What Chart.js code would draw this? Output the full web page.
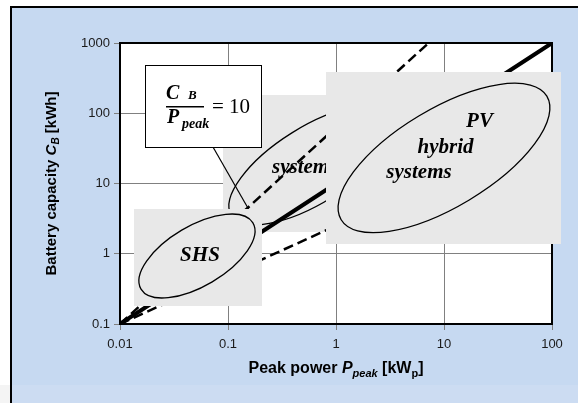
<!DOCTYPE html>
<html>
<head>
<meta charset="utf-8">
<script src="https://cdn.jsdelivr.net/npm/chart.js@4.4.1/dist/chart.umd.min.js"></script>
<style>
    html, body { margin: 0; padding: 0; background: #fff; }
    #wrap { width: 578px; height: 403px; position: relative; }
</style>
</head>
<body>
<div id="wrap"><canvas id="battery-chart"></canvas></div>
<script>
/* Data *****************************************************************************/

const xTicks = [0.01, 0.1, 1, 10, 100];
const xTickLabels = ["0.01", "0.1", "1", "10", "100"];
const yTicks = [0.1, 1, 10, 100, 1000];
const yTickLabels = ["0.1", "1", "10", "100", "1000"];

// C_B / P_peak = 10 (thick solid line)
const ratioPower = [0.01, 0.1, 1, 10, 100];
const ratioCapacity = [0.1, 1, 10, 100, 1000];

// steeper dashed bound
const upperPower = [0.01, 0.1, 1, 7.2];
const upperCapacity = [0.1, 2.5, 63, 1000];

// flatter dashed bound
const lowerPower = [0.01, 0.1, 1, 10, 100];
const lowerCapacity = [0.1, 0.5, 2.5, 12.6, 63];

const toPoints = (xs, ys) => xs.map((x, i) => ({x: x, y: ys[i]}));

/* Annotations (corners / centres in data units, kWp and kWh) ***********************/

const FONT_SANS = "'Liberation Sans', Arial, sans-serif";
const FONT_SERIF = "'Liberation Serif', 'Times New Roman', serif";
const BOX_GRAY = "#e8e8e8";

const midBox = {x1: 0.09, x2: 0.88, y1: 182, y2: 2.04};
const shsBox = {x1: 0.0135, x2: 0.2066, y1: 4.34, y2: 0.18};
const pvBox = {x1: 0.807, x2: 121, y1: 386, y2: 1.377};
const calloutBox = {x1: 0.017, x2: 0.2022, y1: 486, y2: 33.1};
const leader = {x1: 0.0726, y1: 33.1, x2: 0.1815, y2: 2.83};

const midEllipse = {x: 0.6, y: 18.3, rx: 95, ry: 38, rot: -32,
    labels: [{text: "systems", dx: -40, dy: 8, align: "left"}]};
const shsEllipse = {x: 0.0516, y: 0.929, rx: 65, ry: 30, rot: -30.6,
    labels: [{text: "SHS", dx: 3, dy: 5, align: "center"}]};
const pvEllipse = {x: 10, y: 23.1, rx: 120, ry: 49, rot: -31,
    labels: [
        {text: "PV", dx: 35.5, dy: -31, align: "center"},
        {text: "hybrid", dx: 1.5, dy: -5, align: "center"},
        {text: "systems", dx: -25, dy: 20, align: "center"},
    ]};

/* Drawing helpers ******************************************************************/

const pos = (chart, x, y) => [chart.scales.x.getPixelForValue(x), chart.scales.y.getPixelForValue(y)];

const fillBox = (ctx, chart, box, color) => {
    const [x1, y1] = pos(chart, box.x1, box.y1);
    const [x2, y2] = pos(chart, box.x2, box.y2);
    ctx.fillStyle = color;
    ctx.fillRect(Math.round(x1), Math.round(y1), Math.round(x2 - x1), Math.round(y2 - y1));
    return [Math.round(x1), Math.round(y1), Math.round(x2 - x1), Math.round(y2 - y1)];
};

const drawEllipse = (ctx, chart, e) => {
    const [cx, cy] = pos(chart, e.x, e.y);
    ctx.beginPath();
    ctx.ellipse(cx, cy, e.rx, e.ry, e.rot * Math.PI / 180, 0, Math.PI * 2);
    ctx.strokeStyle = "#000";
    ctx.lineWidth = 1.3;
    ctx.stroke();
    ctx.fillStyle = "#000";
    ctx.font = `italic bold 21px ${FONT_SERIF}`;
    ctx.textBaseline = "alphabetic";
    e.labels.forEach((l) => {
        ctx.textAlign = l.align;
        ctx.fillText(l.text, cx + l.dx, cy + l.dy);
    });
};

// bold sans text with italic / subscript runs, centred on (x, y) baseline
const drawRich = (ctx, parts, size, x, y, angle) => {
    ctx.save();
    ctx.translate(x, y);
    ctx.rotate(angle);
    const fontFor = (p) => `${p.italic ? "italic " : ""}bold ${p.sub ? Math.round(size * 0.68) : size}px ${FONT_SANS}`;
    let total = 0;
    parts.forEach((p) => { ctx.font = fontFor(p); total += ctx.measureText(p.t).width; });
    let cx = -total / 2;
    ctx.fillStyle = "#000";
    ctx.textAlign = "left";
    ctx.textBaseline = "alphabetic";
    parts.forEach((p) => {
        ctx.font = fontFor(p);
        ctx.fillText(p.t, cx, p.sub ? size * 0.22 : 0);
        cx += ctx.measureText(p.t).width;
    });
    ctx.restore();
};

const drawFormula = (ctx, left, top) => {
    ctx.fillStyle = "#000";
    ctx.textAlign = "left";
    ctx.textBaseline = "alphabetic";
    ctx.font = `italic bold 20px ${FONT_SERIF}`;
    ctx.fillText("C", left + 21, top + 34);
    ctx.fillText("P", left + 22, top + 58);
    ctx.font = `italic bold 13px ${FONT_SERIF}`;
    ctx.fillText("B", left + 43, top + 34);
    ctx.font = `italic bold 14px ${FONT_SERIF}`;
    ctx.fillText("peak", left + 37, top + 63);
    ctx.fillRect(left + 21, top + 41, 38, 1.5);
    ctx.font = `21px ${FONT_SERIF}`;
    ctx.fillText("= 10", left + 67, top + 48);
};

const overlayPlugin = {
    id: "overlays",
    beforeDraw(chart) {
        const ctx = chart.ctx;
        const {width, height, chartArea: a} = chart;
        ctx.save();
        ctx.fillStyle = "#fff";
        ctx.fillRect(0, 0, width, height);
        ctx.fillStyle = "#f4f4f4";
        ctx.fillRect(0, 385, 10, height - 385);
        ctx.fillStyle = "#c6d9f1";
        ctx.fillRect(12, 8, width - 12, height - 8);
        ctx.fillStyle = "#ccdcf2";
        ctx.fillRect(12, 385, width - 12, height - 385);
        ctx.fillStyle = "#000";
        ctx.fillRect(10, 6, width - 10, 2);
        ctx.fillRect(10, 6, 2, height - 6);
        ctx.fillStyle = "#fff";
        ctx.fillRect(a.left, a.top, a.right - a.left, a.bottom - a.top);
        ctx.restore();
    },
    beforeDatasetsDraw(chart) {
        const ctx = chart.ctx;
        const a = chart.chartArea;
        ctx.save();
        // top and right frame of the plot area
        ctx.strokeStyle = "#000";
        ctx.lineWidth = 2;
        ctx.beginPath();
        ctx.moveTo(a.left, a.top);
        ctx.lineTo(a.right, a.top);
        ctx.lineTo(a.right, a.bottom);
        ctx.stroke();
        fillBox(ctx, chart, midBox, BOX_GRAY);
        drawEllipse(ctx, chart, midEllipse);
        ctx.restore();
    },
    afterDatasetsDraw(chart) {
        const ctx = chart.ctx;
        const a = chart.chartArea;
        ctx.save();
        const [lx1, ly1] = pos(chart, leader.x1, leader.y1);
        const [lx2, ly2] = pos(chart, leader.x2, leader.y2);
        ctx.strokeStyle = "#000";
        ctx.lineWidth = 1.2;
        ctx.beginPath();
        ctx.moveTo(lx1, ly1);
        ctx.lineTo(lx2, ly2);
        ctx.stroke();

        fillBox(ctx, chart, shsBox, BOX_GRAY);
        drawEllipse(ctx, chart, shsEllipse);
        fillBox(ctx, chart, pvBox, BOX_GRAY);
        drawEllipse(ctx, chart, pvEllipse);

        const [bx, by, bw, bh] = fillBox(ctx, chart, calloutBox, "#fff");
        ctx.strokeStyle = "#000";
        ctx.lineWidth = 1;
        ctx.strokeRect(bx + 0.5, by + 0.5, bw, bh);
        drawFormula(ctx, bx, by);

        // axis titles
        drawRich(ctx, [
            {t: "Peak power "}, {t: "P", italic: true}, {t: "peak", italic: true, sub: true},
            {t: " [kW"}, {t: "p", sub: true}, {t: "]"},
        ], 16, (a.left + a.right) / 2, a.bottom + 49, 0);
        drawRich(ctx, [
            {t: "Battery capacity "}, {t: "C", italic: true}, {t: "B", italic: true, sub: true},
            {t: " [kWh]"},
        ], 15, a.left - 64, (a.top + a.bottom) / 2, -Math.PI / 2);
        ctx.restore();
    },
};

/* Chart ****************************************************************************/

const tickFont = {family: FONT_SANS, size: 13};

const batteryChart = new Chart(document.getElementById("battery-chart"), {
    type: "scatter",
    data: {
        datasets: [{
            label: "C_B / P_peak = 10", data: toPoints(ratioPower, ratioCapacity), showLine: true,
            borderColor: "#000", borderWidth: 4, pointRadius: 0,
        }, {
            label: "upper bound", data: toPoints(upperPower, upperCapacity), showLine: true,
            borderColor: "#000", borderWidth: 2.5, borderDash: [10, 5], pointRadius: 0,
        }, {
            label: "lower bound", data: toPoints(lowerPower, lowerCapacity), showLine: true,
            borderColor: "#000", borderWidth: 2.5, borderDash: [10, 5], pointRadius: 0,
        },],
    },
    options: {
        responsive: true, maintainAspectRatio: false, animation: false,
        layout: {padding: {top: 43, right: 26, bottom: 0, left: 0}},
        plugins: {legend: {display: false}, tooltip: {enabled: false}},
        scales: {
            x: {
                type: "logarithmic", min: 0.01, max: 100,
                afterBuildTicks: (axis) => { axis.ticks = xTicks.map((v) => ({value: v})); },
                afterFit: (axis) => { axis.height = 79; },
                ticks: {
                    callback: (value, index) => xTickLabels[index],
                    color: "#1a1a1a", font: tickFont, padding: 7, maxRotation: 0, autoSkip: false,
                },
                grid: {color: "#808080", lineWidth: 1, tickLength: 6},
                border: {color: "#000", width: 2},
            },
            y: {
                type: "logarithmic", min: 0.1, max: 1000,
                afterBuildTicks: (axis) => { axis.ticks = yTicks.map((v) => ({value: v})); },
                afterFit: (axis) => { axis.width = 120; },
                ticks: {
                    callback: (value, index) => yTickLabels[index],
                    color: "#1a1a1a", font: tickFont, padding: 4, autoSkip: false,
                },
                grid: {color: "#808080", lineWidth: 1, tickLength: 6},
                border: {color: "#000", width: 2},
            },
        },
    },
    plugins: [overlayPlugin],
});
</script>
</body>
</html>
